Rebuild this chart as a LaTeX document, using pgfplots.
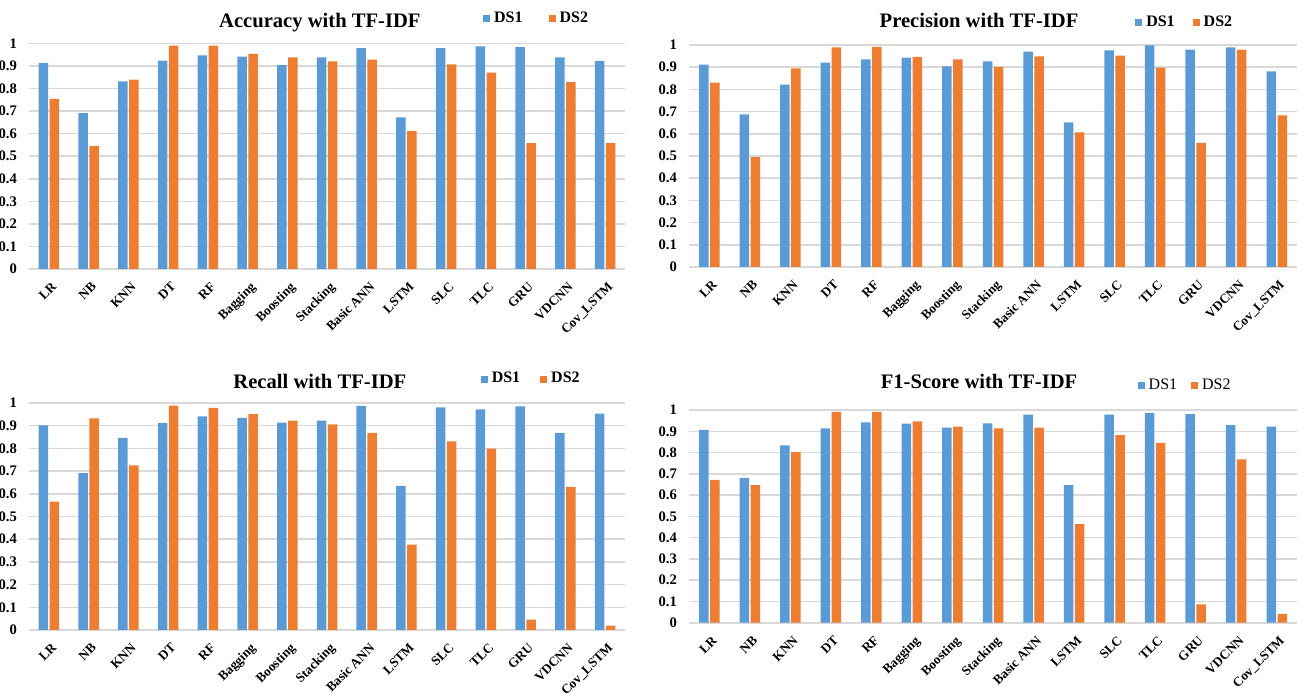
\documentclass[border=0pt]{standalone}
\usepackage{fontspec}
\setmainfont{Liberation Serif}
\usepackage{pgfplots}
\usepackage{pgfplotstable}
\pgfplotsset{compat=1.18}
\definecolor{dsone}{HTML}{5B9BD5}
\definecolor{dstwo}{HTML}{ED7D31}
\definecolor{gridc}{HTML}{D9D9D9}

\pgfplotstableread{
x ds1 ds2
0 0.914 0.754
1 0.691 0.545
2 0.832 0.840
3 0.924 0.991
4 0.947 0.991
5 0.942 0.954
6 0.904 0.938
7 0.938 0.921
8 0.979 0.929
9 0.672 0.611
10 0.979 0.907
11 0.987 0.871
12 0.984 0.558
13 0.938 0.829
14 0.923 0.558
}\acc
\pgfplotstableread{
x ds1 ds2
0 0.911 0.830
1 0.687 0.495
2 0.821 0.895
3 0.920 0.989
4 0.935 0.991
5 0.943 0.946
6 0.904 0.935
7 0.926 0.901
8 0.970 0.949
9 0.651 0.606
10 0.976 0.952
11 0.998 0.898
12 0.979 0.559
13 0.989 0.979
14 0.881 0.683
}\prec
\pgfplotstableread{
x ds1 ds2
0 0.901 0.566
1 0.691 0.932
2 0.846 0.725
3 0.912 0.988
4 0.941 0.979
5 0.934 0.951
6 0.913 0.922
7 0.922 0.906
8 0.987 0.868
9 0.635 0.376
10 0.981 0.831
11 0.972 0.799
12 0.985 0.046
13 0.868 0.631
14 0.953 0.019
}\rec
\pgfplotstableread{
x ds1 ds2
0 0.906 0.672
1 0.681 0.647
2 0.834 0.802
3 0.914 0.991
4 0.942 0.991
5 0.936 0.947
6 0.917 0.922
7 0.937 0.914
8 0.978 0.917
9 0.647 0.463
10 0.978 0.882
11 0.986 0.846
12 0.981 0.086
13 0.929 0.768
14 0.922 0.041
}\fone

\pgfplotsset{
  mypanel/.style={
    scale only axis, anchor=south west,
    ymin=0, ymax=1,
    ytick={0,0.1,0.2,0.3,0.4,0.5,0.6,0.7,0.8,0.9,1},
    xmin=-0.5, xmax=14.5,
    xtick={0,...,14},
    xticklabels={LR,NB,KNN,DT,RF,Bagging,Boosting,Stacking,Basic ANN,LSTM,SLC,TLC,GRU,VDCNN,Cov\_LSTM},
    ybar=0.75pt, bar width=4.75pt,
    axis x line*=bottom, axis y line*=left,
    y axis line style={draw=none},
    x axis line style={draw=gridc, line width=0.9pt},
    major tick length=0pt,
    ymajorgrids, grid style={draw=gridc, line width=0.75pt},
    /pgf/number format/assume math mode=true,
    yticklabel style={font=\bfseries\fontsize{7.3}{8}\selectfont, xshift=-2.5pt},
    xticklabel style={font=\bfseries\fontsize{6.6}{8}\selectfont, rotate=45, anchor=north east, inner sep=1pt, yshift=-4pt, xshift=-2.5pt},
    title style={font=\bfseries\fontsize{10.3}{12}\selectfont, anchor=base, yshift=-6pt},
    legend columns=2,
    legend image code/.code={\fill[##1, draw=none] (0pt,-1.75pt) rectangle (3.5pt,1.75pt);},
    legend style={draw=none, fill=none, anchor=west, inner sep=0pt, outer sep=0pt,
      font=\bfseries\fontsize{8}{10}\selectfont,
      /tikz/every odd column/.append style={column sep=0pt}},
    clip=false,
  },
  s1/.style={fill=dsone, draw=none},
  s2/.style={fill=dstwo, draw=none},
}

\begin{document}
\begin{tikzpicture}
\useasboundingbox (0pt,0pt) rectangle (652pt,347.5pt);

% Top-left: Accuracy
\begin{axis}[mypanel, at={(14.5pt,213pt)}, width=298pt, height=112.75pt,
  title={Accuracy with TF-IDF}, title style={at={(0.488,1.073)}},
  legend style={at={(0.762,1.109)}, /tikz/every even column/.append style={column sep=11pt}}]
\addplot[s1] table[x=x,y=ds1]{\acc};
\addplot[s2] table[x=x,y=ds2]{\acc};
\legend{DS1,DS2}
\end{axis}

% Top-right: Precision
\begin{axis}[mypanel, at={(344.5pt,214pt)}, width=304pt, height=111pt,
  title={Precision with TF-IDF}, title style={at={(0.477,1.081)}},
  legend style={at={(0.734,1.100)}, /tikz/every even column/.append style={column sep=7pt}}]
\addplot[s1] table[x=x,y=ds1]{\prec};
\addplot[s2] table[x=x,y=ds2]{\prec};
\legend{DS1,DS2}
\end{axis}

% Bottom-left: Recall
\begin{axis}[mypanel, at={(14.5pt,32.5pt)}, width=298pt, height=113.5pt,
  title={Recall with TF-IDF}, title style={at={(0.488,1.062)}},
  legend style={at={(0.758,1.105)}, /tikz/every even column/.append style={column sep=8pt}}]
\addplot[s1] table[x=x,y=ds1]{\rec};
\addplot[s2] table[x=x,y=ds2]{\rec};
\legend{DS1,DS2}
\end{axis}

% Bottom-right: F1-Score
\begin{axis}[mypanel, at={(344.5pt,36.15pt)}, width=304pt, height=106.35pt,
  title={F1-Score with TF-IDF}, title style={at={(0.477,1.099)}},
  legend style={at={(0.738,1.115)}, font=\fontsize{8}{10}\selectfont, /tikz/every even column/.append style={column sep=5pt}}]
\addplot[s1] table[x=x,y=ds1]{\fone};
\addplot[s2] table[x=x,y=ds2]{\fone};
\legend{DS1,DS2}
\end{axis}
\end{tikzpicture}
\end{document}
